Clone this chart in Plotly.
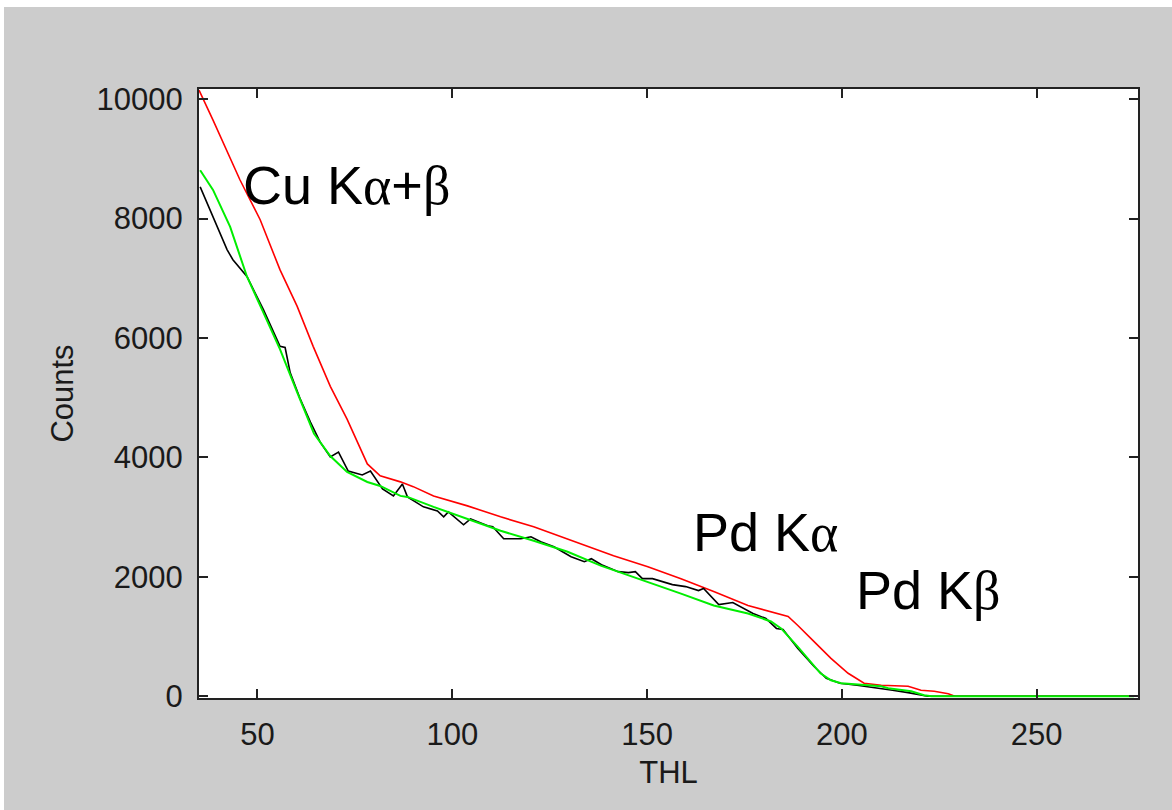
import plotly.graph_objects as go

# Threshold scan (THL) of measured counts, the fitted model and the shifted model
thl_measured = [35.3, 38.6, 42.2, 43.7, 47.3, 51.5, 55.1, 55.8, 57.1, 58.4, 61.0, 63.6,
                66.1, 68.7, 70.8, 73.3, 76.9, 79.0, 82.1, 84.9, 87.2, 88.5, 92.6, 96.2,
                97.8, 99.0, 102.9, 104.7, 109.1, 110.4, 113.2, 117.6, 120.2, 122.7, 126.1,
                130.5, 133.9, 135.7, 138.3, 142.6, 145.2, 147.0, 148.8, 151.4, 156.5, 159.9,
                163.2, 164.5, 168.4, 172.0, 177.2, 180.5, 183.2, 184.9, 188.7, 192.8, 196.0,
                199.5, 203.9, 208.0, 213.0, 217.0, 220.0, 222.0, 230.0, 250.0, 275.0]
counts_measured = [8530, 8030, 7480, 7310, 7030, 6480, 5975, 5860, 5840, 5420, 4975, 4590,
                   4256, 4006, 4089, 3772, 3705, 3772, 3472, 3355, 3555, 3338, 3171, 3104,
                   3004, 3088, 2871, 2971, 2854, 2837, 2637, 2637, 2670, 2587, 2504,
                   2337, 2253, 2303, 2203, 2086, 2070, 2086, 1969, 1969, 1869, 1836,
                   1769, 1803, 1535, 1569, 1385, 1302, 1135, 1118, 801, 501, 300,
                   217, 184, 150, 100, 60, 17, 0, 0, 0, 0]

thl_fit = [35.3, 38.6, 43.0, 47.3, 51.5, 55.8, 60.2, 64.5, 68.7, 73.0, 78.2, 81.5, 86.7,
           88.5, 95.2, 103.9, 112.4, 120.9, 129.6, 138.1, 150.2, 158.7, 167.1, 175.9,
           181.8, 184.4, 188.7, 192.8, 194.5, 197.2, 199.8, 201.6, 210.1, 211.9, 217.8,
           221.1, 223.0, 250.0, 275.0]
counts_fit = [8810, 8480, 7860, 7030, 6430, 5810, 5090, 4400, 4022, 3755, 3588, 3522, 3355,
              3338, 3171, 2971, 2771, 2604, 2420, 2186, 1919, 1719, 1519, 1385,
              1252, 1135, 826, 517, 384, 267, 217, 210, 167, 134, 83,
              17, 0, 0, 0]

thl_shift = [35.0, 38.6, 45.5, 50.7, 55.8, 60.2, 64.3, 68.7, 73.0, 78.2, 81.5, 86.7, 90.0,
             95.2, 103.9, 112.4, 120.9, 129.6, 138.1, 141.4, 150.2, 158.7, 167.1, 175.9,
             186.2, 188.7, 192.8, 197.2, 201.6, 205.7, 210.1, 217.0, 220.3, 223.7, 227.3,
             229.0, 250.0, 275.0]
counts_shift = [10150, 9650, 8650, 7980, 7140, 6530, 5860, 5190, 4640, 3890, 3690, 3590, 3510,
                3355, 3188, 3004, 2837, 2637, 2440, 2353, 2170, 1969, 1752, 1519,
                1335, 1185, 918, 634, 384, 217, 184, 167, 100, 83, 40,
                0, 0, 0]

x_ticks = [50, 100, 150, 200, 250]
y_ticks = [0, 2000, 4000, 6000, 8000, 10000]

GREEK = '<span style="font-family:Liberation Serif">{}</span>'
peak_labels = [
    ("Cu K" + GREEK.format("α") + "+" + GREEK.format("β"), 45.8, 8560),
    ("Pd K" + GREEK.format("α"), 161.4, 2747),
    ("Pd K" + GREEK.format("β"), 203.2, 1776),
]

W, H = 1172, 810
L, R, T, B = 199, 34, 89, 112
pw, ph = W - L - R, H - T - B

fig = go.Figure()
fig.add_trace(go.Scatter(x=thl_shift, y=counts_shift, mode="lines",
                         line=dict(color="#ff0000", width=1.6), showlegend=False))
fig.add_trace(go.Scatter(x=thl_measured, y=counts_measured, mode="lines",
                         line=dict(color="#000000", width=1.6), showlegend=False))
fig.add_trace(go.Scatter(x=thl_fit, y=counts_fit, mode="lines",
                         line=dict(color="#00ee00", width=2), showlegend=False))

for text, x, y in peak_labels:
    fig.add_annotation(x=x, y=y, text=text, showarrow=False, xanchor="left", yanchor="middle",
                       font=dict(family="Liberation Sans, Arial, sans-serif", size=54, color="#000000"))

# thin white edge along the top and left of the figure
fig.add_shape(type="rect", xref="paper", yref="paper",
              x0=-L / pw, x1=(4 - L) / pw, y0=-B / ph - 0.05, y1=(H - B) / ph + 0.05,
              fillcolor="#ffffff", line_width=0, layer="below")
fig.add_shape(type="rect", xref="paper", yref="paper",
              x0=-L / pw - 0.05, x1=(W - L) / pw + 0.05, y0=(H - B - 7) / ph, y1=(H - B) / ph + 0.05,
              fillcolor="#ffffff", line_width=0, layer="below")

axis_font = dict(family="Liberation Sans, Arial, sans-serif", size=31, color="#1a1a1a")
common = dict(showline=True, linecolor="#222222", linewidth=2, mirror="ticks",
              ticks="inside", ticklen=9, tickwidth=1.5, tickcolor="#222222",
              showgrid=False, zeroline=False, tickfont=axis_font)

fig.update_xaxes(range=[35, 276], tickvals=x_ticks, ticktext=[str(v) for v in x_ticks],
                 title=dict(text="THL", font=axis_font, standoff=10), ticklabelstandoff=8, **common)
fig.update_yaxes(range=[-30, 10170], tickvals=y_ticks, ticktext=[str(v) for v in y_ticks],
                 title=dict(text="Counts", font=axis_font, standoff=14), ticklabelstandoff=8, **common)

fig.update_layout(width=W, height=H, margin=dict(l=L, r=R, t=T, b=B),
                  paper_bgcolor="#cccccc", plot_bgcolor="#ffffff")

fig.write_html("out.html")
